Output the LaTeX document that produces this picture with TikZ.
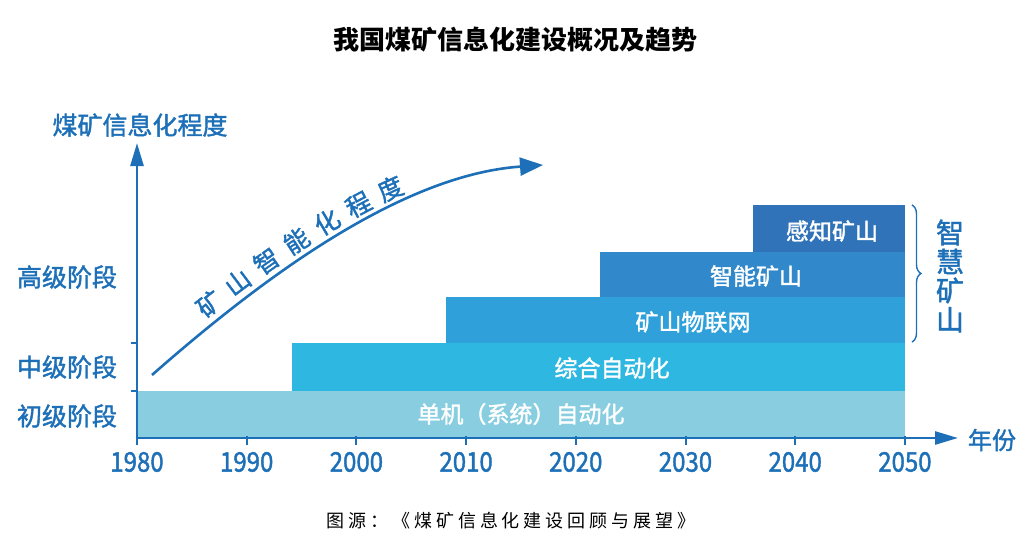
\documentclass[tikz,border=0pt]{standalone}
\usepackage{fontspec}
\setmainfont{Noto Sans CJK SC}
\newfontfamily\heavycjk[FakeBold = 1.6]{Noto Sans CJK SC}
\usetikzlibrary{arrows.meta,decorations.pathreplacing}

\definecolor{axisblue}{HTML}{1D70B8}
\definecolor{barone}{HTML}{88CEE0}
\definecolor{bartwo}{HTML}{2DB7E1}
\definecolor{barthree}{HTML}{2FA0DA}
\definecolor{barfour}{HTML}{3189CB}
\definecolor{barfive}{HTML}{3173B9}

\newcommand{\fsize}[1]{\fontsize{#1}{#1}\selectfont}

\tikzset{
	axis line/.style = {axisblue, line width = 2.6pt, -{Triangle[length = 23pt, width = 13pt]}},
	axis tick/.style = {axisblue, line width = 2pt},
	stage label/.style = {text = axisblue, font = \heavycjk\fsize{25}, inner sep = 0pt},
	bar label/.style = {text = white, font = \heavycjk\fsize{23}, inner sep = 0pt},
	year label/.style = {text = axisblue, font = \heavycjk\fsize{27}, inner sep = 0pt, xscale = 0.89},
}

\begin{document}
\begin{tikzpicture}[x = 1pt, y = -1pt]
	\useasboundingbox (0, 0) rectangle (1034, 541);
	
	% bars, from low to high
	\fill[barone] (137, 391) rectangle (905, 437);
	\fill[bartwo] (292, 343) rectangle (905, 391);
	\fill[barthree] (446, 297) rectangle (905, 343);
	\fill[barfour] (600, 252) rectangle (905, 297);
	\fill[barfive] (753, 205) rectangle (905, 252);
	
	\node[bar label] (single) at (521, 414) {单机（系统）自动化};
	\node[bar label] (integrated) at (612, 368) {综合自动化};
	\node[bar label] (iot) at (693, 322) {矿山物联网};
	\node[bar label] (intelligent) at (756, 276) {智能矿山};
	\node[bar label] (sensing) at (832, 231) {感知矿山};
	
	% axes
	\coordinate (origin) at (137, 438);
	\coordinate (yend) at (137, 143);
	\coordinate (xend) at (958, 438);
	\draw[axis line] (origin) -- (yend);
	\draw[axis line] (origin) -- (xend);
	
	\foreach \yr in {1980,1990,...,2050}
	\draw[axis tick] ({137 + (\yr - 1980) * 10.97}, 436) -- ++(0, 9) node[year label, anchor = north, yshift = -6pt] (y\yr) {\yr};
	
	\draw[axis tick] (131, 391) -- (137, 391);
	\draw[axis tick] (131, 343) -- (137, 343);
	
	\node[stage label] (ytitle) at (140, 125) {煤矿信息化程度};
	\node[stage label, font = \heavycjk\fsize{24}] (xtitle) at (992, 440) {年份};
	\node[stage label] (high) at (67, 277) {高级阶段};
	\node[stage label] (mid) at (67, 367) {中级阶段};
	\node[stage label] (low) at (67, 416) {初级阶段};
	
	% trend arrow with text along it
	\coordinate (cstart) at (152, 375);
	\coordinate (cend) at (543, 165);
	\draw[axisblue, line width = 2.6pt, -{Triangle[length = 23pt, width = 18pt]}] (cstart) .. controls (260, 280) and (400, 175) .. (cend);
	\foreach \c [count = \i from 0] in {矿,山,智,能,化,程,度} {
		\pgfmathsetmacro\p{0.2 + 0.076 * \i}
		\path (cstart) .. controls (260, 280) and (400, 175) .. (cend) node[sloped, pos = \p, above = 6pt, text = axisblue, font = \heavycjk\fsize{25}, inner sep = 0pt] (c\i) {\c};
	}
	
	% smart mine brace
	\draw[axisblue, line width = 1.4pt, decorate, decoration = {brace, amplitude = 9pt}] (912, 205) -- (912, 342);
	\node[text = axisblue, font = \heavycjk\fontsize{28}{29}\selectfont, align = center, inner sep = 0pt] (smart) at (950, 276) {智\\慧\\矿\\山};
	
	% title and source
	\node[font = \fsize{26}\bfseries, inner sep = 0pt] (title) at (515, 40) {我国煤矿信息化建设概况及趋势};
	\node[font = \fsize{18}\addfontfeatures{LetterSpace = 22}, inner sep = 0pt] (source) at (511, 521) {图源：《煤矿信息化建设回顾与展望》};
\end{tikzpicture}
\end{document}
